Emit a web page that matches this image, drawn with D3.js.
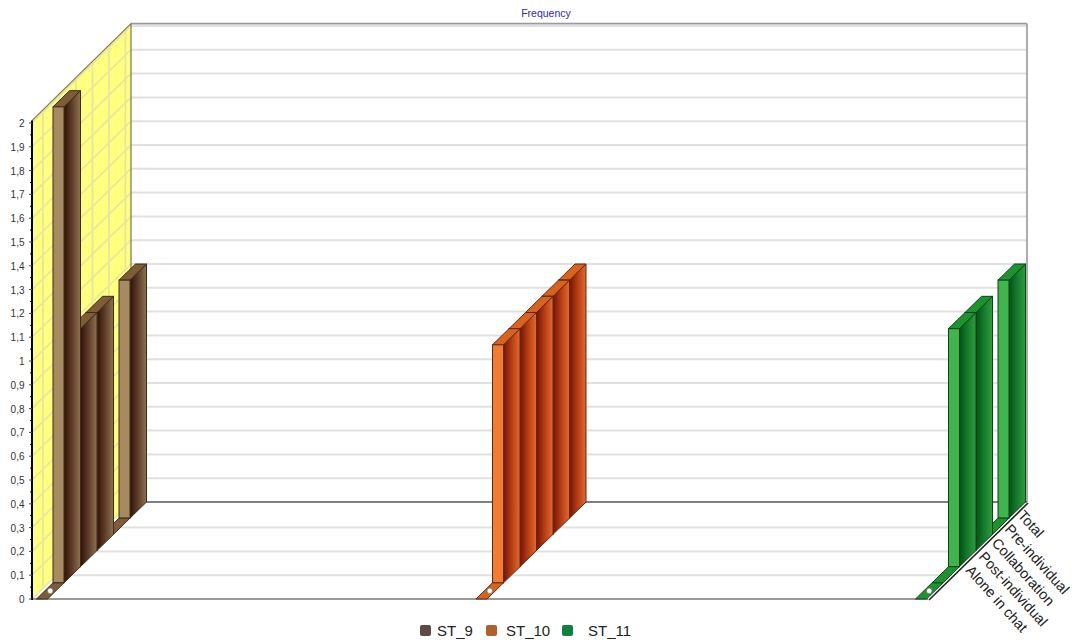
<!DOCTYPE html>
<html><head><meta charset="utf-8">
<script src="https://cdn.jsdelivr.net/npm/d3@7/dist/d3.min.js"></script>
<style>html,body{margin:0;background:#fff}svg{display:block;font-family:"Liberation Sans",Arial,sans-serif}</style>
</head><body><svg id="c" width="1072" height="644"></svg>
<script>
const seriesNames = ["ST_9","ST_10","ST_11"];
const slots = ["", "Alone in chat","Post-individual","Collaboration","Pre-individual","Total"];
const st9  = [0,2,1,1,0,1];
const st10 = [0,1,1,1,1,1];
const st11 = [0,0,1,1,0,1];
const allValues = [st9,st10,st11];
const yTicks = d3.range(0,21).map(i=>i/10);
const fmt = v => String(+v.toFixed(1)).replace(".",",");
const legendColors = ["#5b4a48","#b0602c","#0f8040"];
const palettes = [
 {front:"#a68a62",top:"#7d5c38",d:"#2e1208",m:"#5a3a26",l:"#8f7252",e:"#3e2a18"},
 {front:"#f47c30",top:"#d8631f",d:"#741405",m:"#b03a14",l:"#e8692b",e:"#5e2810"},
 {front:"#3fb54c",top:"#1f9230",d:"#064f18",m:"#127a2a",l:"#2f9d3e",e:"#0b451a"}];

const svg = d3.select("#c");
const y = d3.scaleLinear().domain([0,2]).range([0,476]);
const Y0 = 599, X0 = 32, W = 896, DX = 99, DY = 97, wallTop = 2.01;
const dx = d3.scaleLinear().domain([0,6]).range([0,DX]);
const dy = d3.scaleLinear().domain([0,6]).range([0,DY]);
const gx = d3.scalePoint().domain(seriesNames).range([36.5,915.5]);
const FW = 11;
const pts = a => a.map(p=>p.join(",")).join(" ");

// gradients
const defs = svg.append("defs");
palettes.forEach((p,i)=>{
  const g = defs.append("linearGradient").attr("id","g"+i);
  g.append("stop").attr("offset","0").attr("stop-color",p.d);
  g.append("stop").attr("offset","0.45").attr("stop-color",p.m);
  g.append("stop").attr("offset","1").attr("stop-color",p.l);
});

// back wall
const grid = "#e0e0e0";
yTicks.forEach(v=>{
  if(v>0) svg.append("line").attr("x1",X0+DX).attr("x2",X0+DX+W)
    .attr("y1",Y0-DY-y(v)).attr("y2",Y0-DY-y(v)).attr("stroke",grid).attr("stroke-width",2);
});
// floor lines
yTicks.filter(v=>v>0&&v<0.4).forEach(v=>{
  const yy=Y0-y(v), d=y(v)*DX/DY;
  svg.append("line").attr("x1",X0+d).attr("x2",X0+W+d).attr("y1",yy).attr("y2",yy).attr("stroke",grid).attr("stroke-width",2);
});
// left wall
svg.append("polygon").attr("points",pts([[X0,Y0-y(wallTop)],[X0+DX,Y0-DY-y(wallTop)],[X0+DX,Y0-DY],[X0,Y0]])).attr("fill","#ffff80");
yTicks.forEach(v=>{
  svg.append("line").attr("x1",X0).attr("x2",X0+DX).attr("y1",Y0-y(v)).attr("y2",Y0-DY-y(v)).attr("stroke","#e6e69c").attr("stroke-width",1.6);
});
d3.range(0,6).forEach(i=>{
  const d=i+0.66;
  svg.append("line").attr("x1",X0+dx(d)).attr("x2",X0+dx(d)).attr("y1",Y0-dy(d)).attr("y2",Y0-dy(d)-y(wallTop)).attr("stroke","#e6e69c").attr("stroke-width",1.8);
});
// outlines
const topY = Y0-DY-y(wallTop);
svg.append("line").attr("x1",X0).attr("y1",Y0-y(wallTop)).attr("x2",X0+DX).attr("y2",topY).attr("stroke","#77775a").attr("stroke-width",1.2);
svg.append("line").attr("x1",X0+DX).attr("y1",topY).attr("x2",X0+DX+W).attr("y2",topY).attr("stroke","#999").attr("stroke-width",1.6);
svg.append("line").attr("x1",X0+DX).attr("y1",topY).attr("x2",X0+DX).attr("y2",Y0-DY).attr("stroke","#77775a").attr("stroke-width",1.2);
svg.append("line").attr("x1",X0+DX+W).attr("y1",topY).attr("x2",X0+DX+W).attr("y2",Y0-DY).attr("stroke","#999").attr("stroke-width",1.6);
svg.append("line").attr("x1",X0+DX).attr("y1",Y0-DY).attr("x2",X0+DX+W).attr("y2",Y0-DY).attr("stroke","#555").attr("stroke-width",1.4);
svg.append("line").attr("x1",X0).attr("y1",Y0).attr("x2",X0+W).attr("y2",Y0).attr("stroke","#777").attr("stroke-width",1.6);
svg.append("line").attr("x1",X0+W+1).attr("y1",Y0+1).attr("x2",X0+W+DX+1).attr("y2",Y0-DY+1).attr("stroke","#222").attr("stroke-width",1.6);

// bars, rear to front
seriesNames.forEach((s,si)=>{
  const vals=allValues[si], p=palettes[si];
  const g=svg.append("g");
  for(let i=slots.length-1;i>=0;i--){
    const v=vals[i], h=y(v), x=gx(s)+dx(i), b=Y0-dy(i);
    const sd=dx(1), su=dy(1);
    if(v===0){
      g.append("polygon").attr("points",pts([[x,b],[x+FW,b],[x+FW+sd,b-su],[x+sd,b-su]]))
        .attr("fill",p.top).attr("stroke",p.e).attr("stroke-width",1);
      if(i===0) g.append("circle").attr("cx",x+FW/2+sd/2).attr("cy",b-su/2).attr("r",2.8).attr("fill","#fff").attr("stroke","#555").attr("stroke-width",.6);
    } else {
      g.append("polygon").attr("points",pts([[x+FW,b],[x+FW+sd,b-su],[x+FW+sd,b-su-h],[x+FW,b-h]]))
        .attr("fill",`url(#g${si})`).attr("stroke",p.e).attr("stroke-width",1);
      g.append("polygon").attr("points",pts([[x,b-h],[x+FW,b-h],[x+FW+sd,b-su-h],[x+sd,b-su-h]]))
        .attr("fill",p.top).attr("stroke",p.e).attr("stroke-width",1);
      g.append("rect").attr("x",x).attr("y",b-h).attr("width",FW).attr("height",h)
        .attr("fill",p.front).attr("stroke",p.e).attr("stroke-width",1);
    }
  }
});

// y axis
svg.append("line").attr("x1",X0).attr("x2",X0).attr("y1",Y0+1).attr("y2",Y0-y(wallTop)).attr("stroke","#000").attr("stroke-width",2);
yTicks.forEach(v=>{
  svg.append("line").attr("x1",X0-3).attr("x2",X0).attr("y1",Y0-y(v)).attr("y2",Y0-y(v)).attr("stroke","#444");
  svg.append("text").attr("x",X0-7.5).attr("y",Y0-y(v)+4).attr("text-anchor","end")
    .attr("font-size",10).attr("fill","#333").text(fmt(v));
  if(v<2) svg.append("line").attr("x1",X0-2).attr("x2",X0).attr("y1",Y0-y(v+0.05)).attr("y2",Y0-y(v+0.05)).attr("stroke","#000");
});

// title
svg.append("text").attr("x",546).attr("y",17).attr("text-anchor","middle").attr("font-size",10.5).attr("fill","#2a2aaa").text("Frequency");

// category labels
const labelX = d3.scaleLinear().domain([1,5]).range([965,1017]);
const labelY = d3.scaleLinear().domain([1,5]).range([571,516]);
slots.forEach((c,i)=>{
  if(!c) return;
  svg.append("text").attr("transform",`translate(${labelX(i)},${labelY(i)}) rotate(48)`)
    .attr("font-size",14.5).attr("fill","#222").text(c);
});

// legend
const lx = d3.scaleOrdinal().domain(seriesNames).range([420,486,562]);
const tx = d3.scaleOrdinal().domain(seriesNames).range([437,506,588]);
seriesNames.forEach((s,i)=>{
  svg.append("rect").attr("x",lx(s)).attr("y",625).attr("width",11).attr("height",11).attr("rx",2).attr("fill",legendColors[i]);
  svg.append("text").attr("x",tx(s)).attr("y",635.5).attr("font-size",15).attr("fill","#222").text(s);
});
</script></body></html>
